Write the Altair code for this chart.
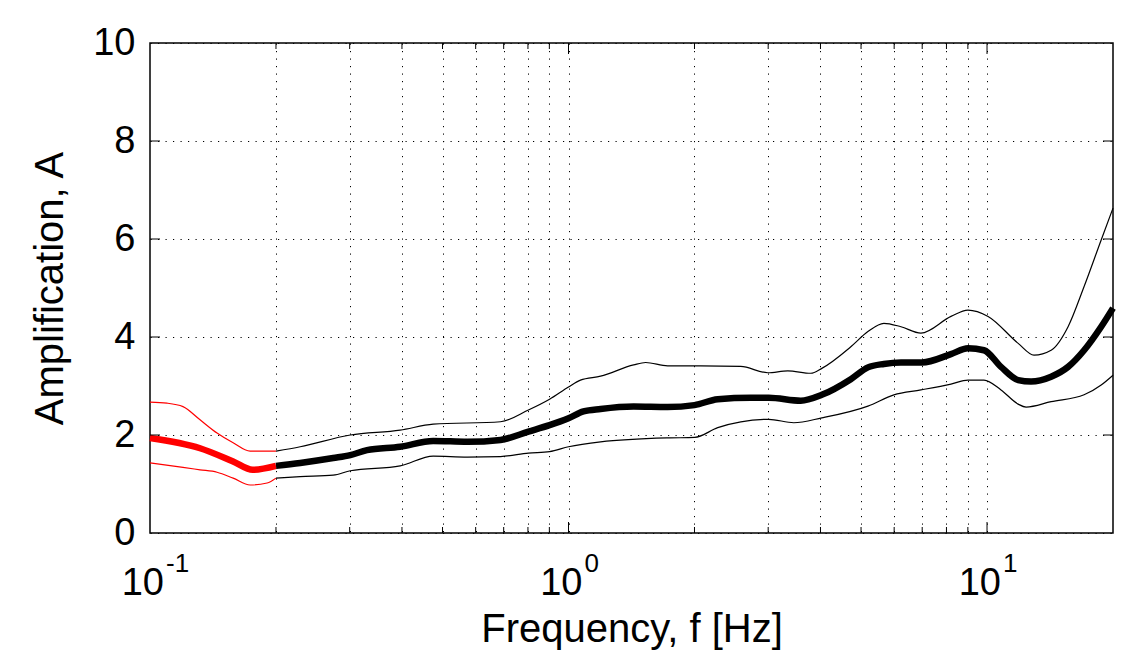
import altair as alt
import pandas as pd

# ---- data ----
mean_f = [0.1, 0.1317, 0.158, 0.176, 0.2, 0.2285, 0.274, 0.301, 0.330, 0.396, 0.475, 0.573,
          0.688, 0.802, 0.901, 1.0, 1.086, 1.193, 1.431, 1.725, 2.0, 2.273, 2.725, 3.01,
          3.589, 4.03, 4.727, 5.193, 5.67, 6.228, 6.99, 8.202, 9.006, 9.835, 10.8, 11.87,
          12.74, 14.23, 15.62, 17.06, 18.74, 20.0]
mean_a = [1.94, 1.73, 1.46, 1.29, 1.37, 1.43, 1.53, 1.59, 1.69, 1.76, 1.88, 1.86,
          1.90, 2.07, 2.20, 2.34, 2.48, 2.53, 2.58, 2.57, 2.61, 2.73, 2.76, 2.76,
          2.70, 2.82, 3.14, 3.38, 3.45, 3.48, 3.48, 3.65, 3.77, 3.73, 3.39, 3.12,
          3.09, 3.19, 3.39, 3.73, 4.21, 4.59]

upper_f = [0.1, 0.1098, 0.1199, 0.1317, 0.1446, 0.158, 0.1735, 0.2, 0.2285, 0.301, 0.396,
           0.475, 0.688, 0.802, 0.901, 1.0, 1.068, 1.193, 1.431, 1.529, 1.725, 2.069,
           2.579, 2.993, 3.341, 3.793, 4.03, 4.727, 5.193, 5.67, 6.228, 6.952, 8.202,
           9.006, 10.06, 11.87, 12.95, 14.23, 15.62, 17.06, 18.74, 20.0]
upper_a = [2.67, 2.65, 2.58, 2.31, 2.04, 1.84, 1.67, 1.67, 1.76, 2.00, 2.10,
           2.22, 2.27, 2.51, 2.73, 2.98, 3.12, 3.20, 3.43, 3.48, 3.41, 3.41,
           3.40, 3.27, 3.31, 3.26, 3.36, 3.80, 4.11, 4.28, 4.21, 4.08, 4.42,
           4.55, 4.42, 3.87, 3.63, 3.73, 4.21, 5.03, 5.98, 6.63]

lower_f = [0.1, 0.1199, 0.1317, 0.1446, 0.158, 0.1735, 0.1905, 0.2, 0.2285, 0.274, 0.301,
           0.396, 0.475, 0.573, 0.688, 0.802, 0.901, 1.0, 1.193, 1.725, 2.002, 2.273,
           3.01, 3.453, 4.03, 5.193, 5.991, 6.952, 8.202, 9.006, 9.835, 10.8, 11.87,
           12.4, 14.23, 17.06, 18.74, 20.0]
lower_a = [1.43, 1.34, 1.29, 1.24, 1.12, 0.98, 1.02, 1.12, 1.15, 1.18, 1.27,
           1.37, 1.57, 1.55, 1.56, 1.63, 1.66, 1.76, 1.86, 1.94, 1.95, 2.15,
           2.32, 2.25, 2.35, 2.59, 2.82, 2.92, 3.04, 3.12, 3.12, 2.92, 2.63,
           2.57, 2.68, 2.82, 3.02, 3.22]

split_f = 0.2  # below this frequency the curves are drawn in red

grid_x = [0.2, 0.3, 0.4, 0.5, 0.6, 0.7, 0.8, 0.9, 1, 2, 3, 4, 5, 6, 7, 8, 9, 10]
major_x = [1, 10]
minor_x = [0.2, 0.3, 0.4, 0.5, 0.6, 0.7, 0.8, 0.9, 2, 3, 4, 5, 6, 7, 8, 9]
y_ticks = [0, 2, 4, 6, 8, 10]
y_inner_ticks = [2, 4, 6, 8]
decades = [0.1, 1, 10]
decade_exp = ["-1", "0", "1"]

# ---- build tables ----
rows = []
for name, fs, vals in [("mean", mean_f, mean_a), ("upper", upper_f, upper_a),
                       ("lower", lower_f, lower_a)]:
    for f, v in zip(fs, vals):
        if f <= split_f:
            rows.append({"curve": name, "seg": "low", "f": f, "A": v})
        if f >= split_f:
            rows.append({"curve": name, "seg": "high", "f": f, "A": v})
df = pd.DataFrame(rows)
df["key"] = df["curve"] + "_" + df["seg"]

W, H = 963, 490
FONT = "Arial"

x_scale = alt.Scale(type="log", domain=[0.1, 20], nice=False)
y_scale = alt.Scale(domain=[0, 10], nice=False)
color = alt.Color("seg:N", scale=alt.Scale(domain=["low", "high"], range=["#ff0000", "#000000"]),
                  legend=None)

x_axis = alt.Axis(values=grid_x, labels=False, ticks=False, domain=False,
                  grid=True, gridDash=[1.2, 6.3], gridColor="#000", gridWidth=1,
                  title="Frequency, f [Hz]", titleFont=FONT, titleFontSize=40,
                  titleFontWeight="normal", titleColor="#000", titlePadding=76)
y_axis = alt.Axis(values=y_ticks, ticks=False, domain=False, labelFont=FONT,
                  labelFontSize=38, labelColor="#000", labelPadding=15,
                  labelOverlap=False, labelFlush=False,
                  grid=True, gridDash=[1.2, 6.3], gridColor="#000", gridWidth=1,
                  title="Amplification, A", titleFont=FONT, titleFontSize=40,
                  titleFontWeight="normal", titleColor="#000", titlePadding=22)

X = alt.X("f:Q", scale=x_scale, axis=x_axis)
Y = alt.Y("A:Q", scale=y_scale, axis=y_axis)

thin = alt.Chart(df[df["curve"] != "mean"]).mark_line(strokeWidth=1.2, interpolate="monotone").encode(
    x=X, y=Y, color=color, detail="key:N")

thick = alt.Chart(df[df["curve"] == "mean"]).mark_line(strokeWidth=6.5, interpolate="monotone").encode(
    x=X, y=Y, color=color, detail="key:N")

minor_df = pd.DataFrame({"f": minor_x})
major_df = pd.DataFrame({"f": major_x})
yt_df = pd.DataFrame({"A": y_inner_ticks})


def xticks(d, length):
    bottom = alt.Chart(d).mark_rule(color="#000", strokeWidth=1).encode(
        x=X, y=alt.value(H), y2=alt.value(H - length))
    top = alt.Chart(d).mark_rule(color="#000", strokeWidth=1).encode(
        x=X, y=alt.value(0), y2=alt.value(length))
    return [bottom, top]


yleft = alt.Chart(yt_df).mark_rule(color="#000", strokeWidth=1).encode(
    y=Y, x=alt.value(0), x2=alt.value(10))
yright = alt.Chart(yt_df).mark_rule(color="#000", strokeWidth=1).encode(
    y=Y, x=alt.value(W), x2=alt.value(W - 10))

lab_df = pd.DataFrame({"f": decades, "exp": decade_exp, "base": ["10"] * 3})
base_txt = alt.Chart(lab_df).mark_text(font=FONT, fontSize=38, align="right", baseline="alphabetic",
                                       dx=14, color="#000").encode(
    x=X, y=alt.value(H + 62), text="base:N")
exp_txt = alt.Chart(lab_df).mark_text(font=FONT, fontSize=26, align="left", baseline="alphabetic",
                                      dx=16, color="#000").encode(
    x=X, y=alt.value(H + 39), text="exp:N")

chart = alt.layer(
    thin, thick, *xticks(minor_df, 6), *xticks(major_df, 11), yleft, yright, base_txt, exp_txt
).properties(
    width=W, height=H,
    autosize=alt.AutoSizeParams(type="none"),
    padding={"left": 142, "top": 35, "right": 8, "bottom": 117},
    background="white",
).configure_view(stroke="#000", strokeWidth=1.5)

chart.save("out.html", embed_options={"renderer": "svg", "actions": False})
